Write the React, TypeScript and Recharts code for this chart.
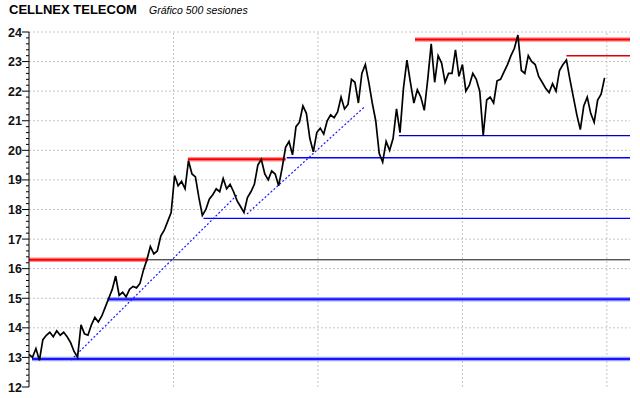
import React from 'react';
import { LineChart, Line, XAxis, YAxis, ReferenceLine } from 'recharts';

// ---- data ----
const TITLE = 'CELLNEX TELECOM';
const SUBTITLE = 'Gráfico 500 sesiones';

const SESSION_STEP = 3;
const prices: number[] = [
  13.1, 13.0, 13.3, 12.9, 13.6, 13.75, 13.85, 13.7, 13.9, 13.75,
  13.85, 13.7, 13.5, 13.2, 13.0, 14.1, 13.8, 13.75, 14.1, 14.35,
  14.2, 14.4, 14.7, 15.0, 15.3, 15.75, 15.1, 15.2, 15.05, 15.3,
  15.4, 15.35, 15.5, 15.95, 16.3, 16.75, 16.5, 16.6, 17.1, 17.3,
  17.6, 17.9, 19.15, 18.8, 18.95, 18.7, 19.65, 19.2, 19.1, 18.4,
  17.8, 18.0, 18.35, 18.5, 18.7, 18.6, 19.05, 18.7, 18.85, 18.6,
  18.3, 18.1, 17.9, 18.4, 18.6, 18.85, 19.5, 19.7, 19.2, 19.0,
  19.3, 19.2, 18.8, 19.4, 20.1, 20.3, 19.85, 20.8, 20.95, 21.5,
  21.25, 20.4, 19.95, 20.6, 20.75, 20.55, 21.0, 21.2, 21.1, 21.3,
  21.8, 21.4, 21.55, 22.4, 22.3, 21.6, 22.6, 22.9, 22.3, 21.6,
  21.0, 19.9, 19.6, 20.3, 20.0, 20.4, 21.4, 20.6, 22.1, 23.05,
  22.3, 21.6, 22.05, 21.8, 21.35, 22.4, 23.6, 22.3, 23.2, 22.95,
  22.3, 22.6, 22.6, 23.4, 22.5, 22.9, 22.0, 22.2, 22.6, 22.4,
  22.0, 20.5, 21.7, 21.8, 21.6, 22.35, 22.4, 22.65, 22.9, 23.2,
  23.45, 23.9, 22.7, 22.6, 23.2, 23.0, 22.9, 22.5, 22.3, 22.1,
  21.95, 22.25, 22.0, 22.7, 22.9, 23.05, 22.4, 21.8, 21.2, 20.7,
  21.5, 21.8, 21.25, 20.95, 21.7, 21.9, 22.45,
];

// horizontal levels: [fromSession, toSession, value]
const redThick: [number, number, number][] = [
  [0, 103, 16.3],
  [137.5, 222, 19.7],
  [334, 520, 23.75],
];
const redThin: [number, number, number][] = [[465, 520, 23.2]];
const blackThin: [number, number, number][] = [[103, 520, 16.3]];
const blueThin: [number, number, number][] = [
  [151, 520, 17.7],
  [223, 520, 19.75],
];
const navyThin: [number, number, number][] = [[320, 520, 20.5]];
const blueThick: [number, number, number][] = [
  [2.6, 520, 12.95],
  [68, 520, 14.97],
];
// trend lines: [s1, v1, s2, v2]
const trends: [number, number, number, number][] = [
  [36.3, 12.91, 180, 18.49],
  [188.6, 17.85, 290, 21.46],
];

const yLabels = [12, 13, 14, 15, 16, 17, 18, 19, 20, 21, 22, 23, 24];
const xGrid = [125, 250, 375, 500];

// ---- build ----
const priceData = prices.map((p, i) => ({ x: i * SESSION_STEP, y: p }));
const seg = (a: number, b: number, v: number) => [
  { x: a, y: v },
  { x: b, y: v },
];
const yTicks: number[] = [];
for (let i = 0; i <= 60; i++) yTicks.push(Math.round((12 + i * 0.2) * 10) / 10);

const YTick = (props: any) => {
  const { x, y, payload } = props;
  const v = payload.value as number;
  const major = Math.abs(v - Math.round(v)) < 1e-6;
  return (
    <g>
      <line x1={x - (major ? 7 : 3)} x2={x} y1={y} y2={y} stroke="#000" strokeWidth={1} />
      {major && (
        <text
          x={x - 7}
          y={y}
          dy={4.5}
          textAnchor="end"
          fontFamily="'Liberation Sans', Arial, sans-serif"
          fontWeight="bold"
          fontSize={12.5}
          fill="#111"
        >
          {Math.round(v)}
        </text>
      )}
    </g>
  );
};

export default function App() {
  let k = 0;
  const lines: React.ReactNode[] = [];
  redThick.forEach(([a, b, v]) => {
    lines.push(
      <Line key={k++} data={seg(a, b, v)} dataKey="y" stroke="#ff9090" strokeWidth={4.5} dot={false} isAnimationActive={false} />
    );
    lines.push(
      <Line key={k++} data={seg(a, b, v)} dataKey="y" stroke="#ff0000" strokeWidth={2} dot={false} isAnimationActive={false} />
    );
  });
  blueThick.forEach(([a, b, v]) => {
    lines.push(
      <Line key={k++} data={seg(a, b, v)} dataKey="y" stroke="#a0a0ff" strokeWidth={4.5} dot={false} isAnimationActive={false} />
    );
    lines.push(
      <Line key={k++} data={seg(a, b, v)} dataKey="y" stroke="#1515ff" strokeWidth={2} dot={false} isAnimationActive={false} />
    );
  });
  redThin.forEach(([a, b, v]) =>
    lines.push(
      <Line key={k++} data={seg(a, b, v)} dataKey="y" stroke="#e00000" strokeWidth={1.5} dot={false} isAnimationActive={false} />
    )
  );
  blackThin.forEach(([a, b, v]) =>
    lines.push(
      <Line key={k++} data={seg(a, b, v)} dataKey="y" stroke="#111" strokeWidth={1} dot={false} isAnimationActive={false} />
    )
  );
  blueThin.forEach(([a, b, v]) =>
    lines.push(
      <Line key={k++} data={seg(a, b, v)} dataKey="y" stroke="#0000ff" strokeWidth={1.3} dot={false} isAnimationActive={false} />
    )
  );
  navyThin.forEach(([a, b, v]) =>
    lines.push(
      <Line key={k++} data={seg(a, b, v)} dataKey="y" stroke="#0000c0" strokeWidth={1.3} dot={false} isAnimationActive={false} />
    )
  );
  trends.forEach(([a, v1, b, v2]) =>
    lines.push(
      <Line
        key={k++}
        data={[
          { x: a, y: v1 },
          { x: b, y: v2 },
        ]}
        dataKey="y"
        stroke="#1a1aff"
        strokeWidth={1.2}
        strokeDasharray="2 2"
        dot={false}
        isAnimationActive={false}
      />
    )
  );

  return (
    <div style={{ position: 'absolute', left: 0, top: 0, width: 640, height: 398, background: '#fff' }}>
      <div
        style={{
          position: 'absolute',
          left: 9,
          top: 2,
          fontFamily: "'Liberation Sans', Arial, sans-serif",
          fontWeight: 'bold',
          fontSize: 13,
          color: '#000',
          whiteSpace: 'nowrap',
        }}
      >
        {TITLE}
      </div>
      <div
        style={{
          position: 'absolute',
          left: 149,
          top: 4,
          fontFamily: "'Liberation Sans', Arial, sans-serif",
          fontStyle: 'italic',
          fontSize: 10.5,
          color: '#000',
          whiteSpace: 'nowrap',
        }}
      >
        {SUBTITLE}
      </div>
      <LineChart width={640} height={398} margin={{ top: 32, right: 10, bottom: 11, left: 0 }}>
        <XAxis
          type="number"
          dataKey="x"
          domain={[0, 520]}
          allowDataOverflow
          height={0}
          tick={false}
          tickLine={false}
          axisLine={{ stroke: '#000', strokeWidth: 1 }}
        />
        <YAxis
          type="number"
          domain={[12, 24]}
          allowDataOverflow
          width={29}
          ticks={yTicks}
          interval={0}
          tickSize={0}
          tickMargin={0}
          tickLine={false}
          tick={<YTick />}
          axisLine={{ stroke: '#000', strokeWidth: 1 }}
        />
        {yLabels.slice(1).map((v) => (
          <ReferenceLine key={'h' + v} y={v} stroke="#c4c4c4" strokeDasharray="2 2" />
        ))}
        {xGrid.map((v) => (
          <ReferenceLine key={'v' + v} x={v} stroke="#c4c4c4" strokeDasharray="2 2" />
        ))}
        {lines}
        <Line
          data={priceData}
          dataKey="y"
          stroke="#000"
          strokeWidth={1.7}
          dot={false}
          isAnimationActive={false}
        />
      </LineChart>
    </div>
  );
}
